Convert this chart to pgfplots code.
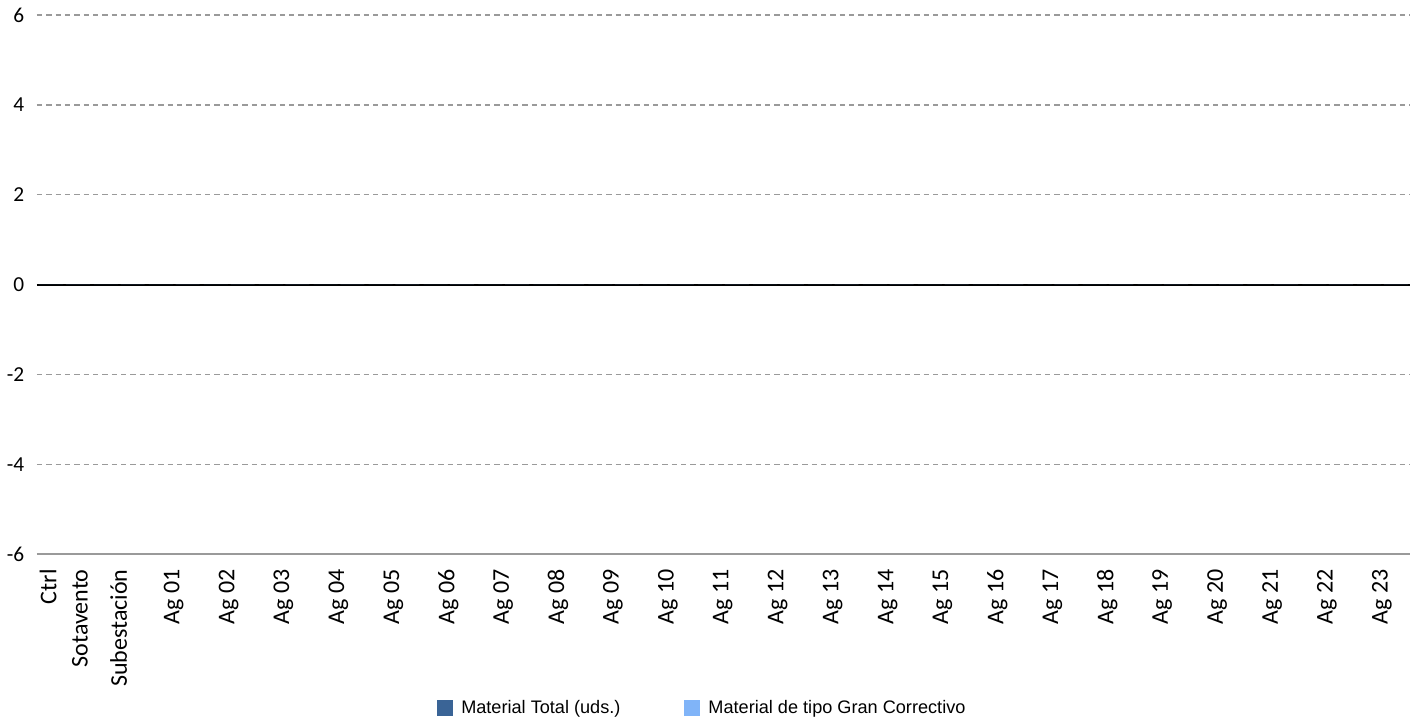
\documentclass[border=0pt]{standalone}
\usepackage{pgfplots}
\pgfplotsset{compat=1.18}
\usepackage{fontspec}
\setmainfont{Liberation Sans}
\newfontfamily\calib{Carlito}
\definecolor{c1}{HTML}{3A6496}
\definecolor{c2}{HTML}{80B4F8}
\definecolor{gridgray}{HTML}{9A9A9A}
\begin{document}
\begin{tikzpicture}
\begin{axis}[
  at={(0,0)}, anchor=south west,
  scale only axis, width=1029.75pt, height=404.25pt,
  xmin=-0.5, xmax=24.5, ymin=-6, ymax=6,
  axis x line*=bottom, axis y line*=left,
  x axis line style={-, draw=gridgray, line width=1.5pt},
  y axis line style={draw=none},
  major tick length=0pt,
  ytick={-6,-4,-2,0,2,4,6},
  ymajorgrids,
  grid style={gridgray, dash pattern=on 4pt off 3pt, line width=1pt},
  extra y ticks={0}, extra y tick labels={},
  extra y tick style={grid style={solid, black, line width=1.5pt}},
  /pgf/number format/assume math mode=true,
  yticklabel style={font=\calib\fontsize{16}{18}\selectfont, anchor=east, xshift=-6pt},
  xtick={0,...,24},
  xticklabels={{Ctrl\\[4.5pt]Sotavento},Subestación,Ag 01,Ag 02,Ag 03,Ag 04,Ag 05,Ag 06,Ag 07,Ag 08,Ag 09,Ag 10,Ag 11,Ag 12,Ag 13,Ag 14,Ag 15,Ag 16,Ag 17,Ag 18,Ag 19,Ag 20,Ag 21,Ag 22,Ag 23},
  xticklabel style={xshift=-0.5pt, yshift=-8pt, rotate=90, anchor=east, align=right, font=\calib\fontsize{18}{19}\selectfont},
  ybar, bar width=18pt,
  legend columns=2,
  legend style={draw=none, fill=none, font=\fontsize{13.6}{15}\selectfont,
    at={(0.2884,-0.2857)}, anchor=west,
    /tikz/every even column/.append style={column sep=46pt}},
  legend cell align=left,
  legend image code/.code={\fill[#1] (0pt,-6pt) rectangle (12pt,6pt); \path (16pt,0pt);},
]
\addplot[fill=c1, draw=none] coordinates {(0,0) (1,0) (2,0) (3,0) (4,0) (5,0) (6,0) (7,0) (8,0) (9,0) (10,0) (11,0) (12,0) (13,0) (14,0) (15,0) (16,0) (17,0) (18,0) (19,0) (20,0) (21,0) (22,0) (23,0) (24,0)};
\addlegendentry{Material Total (uds.)}
\addplot[fill=c2, draw=none] coordinates {(0,0) (1,0) (2,0) (3,0) (4,0) (5,0) (6,0) (7,0) (8,0) (9,0) (10,0) (11,0) (12,0) (13,0) (14,0) (15,0) (16,0) (17,0) (18,0) (19,0) (20,0) (21,0) (22,0) (23,0) (24,0)};
\addlegendentry{Material de tipo Gran Correctivo}
\end{axis}
\path (-27.75pt,-129pt) rectangle (1037.25pt,415.5pt);
\end{tikzpicture}
\end{document}
